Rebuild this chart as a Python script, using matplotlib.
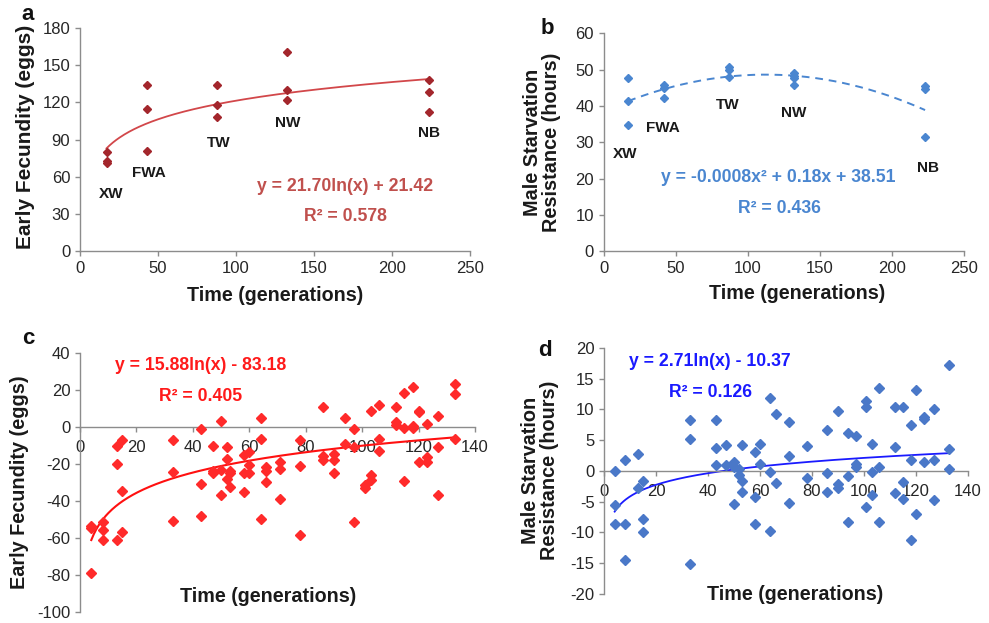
import numpy as np
import matplotlib
matplotlib.use('Agg')
import matplotlib.pyplot as plt

plt.rcParams['font.family'] = ['Liberation Sans', 'DejaVu Sans']
plt.rcParams['axes.unicode_minus'] = False

# ---- panel a / b : population means over generations
pop_names = ['XW', 'FWA', 'TW', 'NW', 'NB']

a_gen = [17, 17, 17, 43, 43, 43, 88, 88, 88, 133, 133, 133, 224, 224, 224]
a_fec = [80, 73, 71, 134, 115, 81, 134, 118, 108, 161, 130, 122, 138, 128, 112]
a_coef = (21.70, 21.42)  # y = a*ln(x) + b

b_gen = [17, 17, 17, 42, 42, 42, 87, 87, 87, 132, 132, 132, 132, 223, 223, 223]
b_res = [47.6, 41.4, 34.8, 45.8, 44.9, 42.1, 50.6, 49.9, 48.1, 49.0, 48.3, 47.8, 45.8, 45.6, 44.6, 31.5]
b_coef = (-0.0008, 0.18, 38.51)  # quadratic

# ---- panel c : early fecundity differences
c_gen = [4, 4, 4, 8, 8, 8, 13, 13, 13, 15, 15, 15, 33, 33, 33, 43, 43, 43,
         47, 47, 47, 50, 50, 50, 52, 52, 52, 53, 53, 53, 58, 58, 58, 60, 60, 60,
         64, 64, 64, 66, 66, 66, 71, 71, 71, 78, 78, 78, 86, 86, 86, 90, 90, 90,
         94, 94, 97, 97, 97, 101, 101, 103, 103, 103, 106, 106, 106,
         112, 112, 112, 115, 115, 115, 118, 118, 118, 120, 120, 120,
         123, 123, 123, 127, 127, 127, 133, 133, 133]
c_fec = [-53.7, -54.8, -78.9, -51.4, -55.5, -61.3, -10, -20, -61, -6.8, -34.8, -56.8,
         -7.2, -24.5, -50.8, -1, -31, -48, -10, -24, -25, 3.4, -23, -36.6,
         -10.8, -17.3, -28, -24, -25, -32.6, -15.3, -25, -35.3, -13.5, -20.4, -25,
         4.9, -6.5, -50, -21.8, -23.6, -29.7, -19, -22.7, -38.9, -6.8, -20.9, -58.2,
         10.8, -15.9, -18, -14.4, -17.7, -24.9, 5.2, -9.2, -0.9, -10.5, -51.5,
         -31.2, -33, 8.5, -26, -28.5, 12, -6.5, -13,
         11, 3, 1.3, 18.4, -0.2, -29.4, 22, 0.4, -0.5, 9, 8, -19,
         1.8, -16.4, -19, 6.1, -11, -37, 23.2, 18, -6.5]
c_coef = (15.88, -83.18)

# ---- panel d : male starvation resistance differences
d_gen = [4, 4, 4, 8, 8, 8, 13, 13, 15, 15, 15, 33, 33, 33, 43, 43, 43, 47, 47,
         50, 50, 50, 52, 52, 53, 53, 53, 58, 58, 58, 60, 60, 64, 64, 64, 66, 66,
         71, 71, 71, 78, 78, 86, 86, 86, 90, 90, 90, 94, 94, 94, 97, 97, 97,
         101, 101, 101, 103, 103, 103, 106, 106, 106, 112, 112, 112, 115, 115, 115,
         118, 118, 118, 120, 120, 123, 123, 123, 127, 127, 127, 133, 133, 133]
d_res = [0, -5.6, -8.6, 1.7, -8.6, -14.4, 2.8, -2.8, -1.6, -7.8, -10, 8.2, 5.2, -15.1,
         8.2, 3.7, 0.9, 4.2, 0.9, 1.4, 0.6, -5.4, 0.3, -0.6, 4.2, -1.7, -3.4,
         3.1, -4.3, -8.6, 4.3, 1.2, 11.9, -0.1, -9.8, 9.3, -1.9,
         7.9, 2.4, -5.2, 4.1, -1.1, 6.6, -0.3, -3.4, 9.8, -2.2, -2.7,
         6.1, -0.9, -8.3, 5.6, 1.1, 0.6, 11.4, 10.3, -5.8, 4.4, -0.2, -3.9,
         13.4, 0.7, -8.3, 10.3, 3.9, -3.6, 10.3, -1.8, -4.5, 7.4, 1.7, -11.2,
         13.2, -7, 8.7, 8.4, 1.5, 10.1, 1.8, -4.7, 17.2, 3.5, 0.3]
d_coef = (2.71, -10.37)

fig = plt.figure(figsize=(9.89, 6.23), dpi=100)

ax_a = fig.add_axes([0.0809, 0.597, 0.394, 0.358])
ax_b = fig.add_axes([0.6104, 0.597, 0.3643, 0.3494])
ax_c = fig.add_axes([0.0809, 0.0181, 0.3994, 0.4148])
ax_d = fig.add_axes([0.611, 0.0465, 0.3674, 0.3953])

spine_col = '#8c8c8c'
tick_col = '#262626'


def style(ax):
    for s in ['top', 'right']:
        ax.spines[s].set_visible(False)
    for s in ['left', 'bottom']:
        ax.spines[s].set_color(spine_col)
        ax.spines[s].set_linewidth(1.0)
    ax.tick_params(axis='both', colors=spine_col, labelcolor=tick_col, labelsize=12,
                   length=3.5, width=1.0, direction='out')
    ax.tick_params(axis='y', pad=3.5)
    ax.tick_params(axis='x', pad=4)


xlab_font = dict(fontsize=14.2, fontweight='bold', color='#1a1a1a')
ylab2_font = dict(fontsize=14.3, fontweight='bold', color='#1a1a1a')
pop_font = dict(fontsize=11, fontweight='bold', color='#1a1a1a', ha='center', va='center')
eq_size = 12.7

# ---- a
style(ax_a)
ax_a.plot(a_gen, a_fec, 'D', color='#a3262c', markersize=4.4, zorder=3)
xa = np.linspace(min(a_gen), max(a_gen), 200)
ax_a.plot(xa, a_coef[0] * np.log(xa) + a_coef[1], color='#d2474a', lw=1.3, zorder=2)
ax_a.set_xlim(0, 250)
ax_a.set_ylim(0, 180)
ax_a.set_xticks(np.arange(0, 251, 50))
ax_a.set_yticks(np.arange(0, 181, 30))
ax_a.set_xlabel('Time (generations)', va='center', **xlab_font)
ax_a.xaxis.set_label_coords(0.5, -0.2)
ax_a.set_ylabel('Early Fecundity (eggs)', va='center', fontsize=15, fontweight='bold',
                color='#1a1a1a')
ax_a.yaxis.set_label_coords(-0.141, 0.51)
for name, (px, py) in zip(pop_names, [(20, 46), (44, 63), (89, 87), (133, 103), (224, 95)]):
    ax_a.text(px, py, name, **pop_font)
ax_a.text(170, 52.5, 'y = 21.70ln(x) + 21.42', color='#c0504d', fontsize=eq_size,
          fontweight='bold', ha='center', va='center')
ax_a.text(170, 27.5, 'R² = 0.578', color='#c0504d', fontsize=eq_size,
          fontweight='bold', ha='center', va='center')

# ---- b
style(ax_b)
ax_b.plot(b_gen, b_res, 'D', color='#4a86d0', markersize=4.2, zorder=3)
xb = np.linspace(min(b_gen), max(b_gen), 200)
ax_b.plot(xb, b_coef[0] * xb ** 2 + b_coef[1] * xb + b_coef[2], color='#4a86d0',
          lw=1.4, ls=(0, (4, 3)), zorder=2)
ax_b.set_xlim(0, 250)
ax_b.set_ylim(0, 60)
ax_b.set_xticks(np.arange(0, 251, 50))
ax_b.set_yticks(np.arange(0, 61, 10))
ax_b.set_xlabel('Time (generations)', va='center', **xlab_font)
ax_b.xaxis.set_label_coords(0.538, -0.197)
ax_b.set_ylabel('Male Starvation\nResistance (hours)', va='center', linespacing=1.0, **ylab2_font)
ax_b.yaxis.set_label_coords(-0.172, 0.5)
for name, (px, py) in zip(pop_names, [(15, 26.7), (41, 34), (86, 40.4), (132, 38), (225, 22.8)]):
    ax_b.text(px, py, name, **pop_font)
ax_b.text(121, 20.2, 'y = -0.0008x² + 0.18x + 38.51', color='#4a86d0', fontsize=eq_size,
          fontweight='bold', ha='center', va='center')
ax_b.text(122, 11.7, 'R² = 0.436', color='#4a86d0', fontsize=eq_size,
          fontweight='bold', ha='center', va='center')

# ---- c
style(ax_c)
ax_c.spines['bottom'].set_position(('data', 0))
ax_c.plot(c_gen, c_fec, 'D', color='#ff2a2a', markersize=4.9, zorder=3)
xc = np.linspace(min(c_gen), max(c_gen), 300)
ax_c.plot(xc, c_coef[0] * np.log(xc) + c_coef[1], color='#ff1010', lw=1.5, zorder=2)
ax_c.set_xlim(0, 140)
ax_c.set_ylim(-100, 40)
ax_c.set_xticks(np.arange(0, 141, 20))
ax_c.set_yticks(np.arange(-100, 41, 20))
ax_c.tick_params(axis='x', pad=6)
ax_c.text(66.5, -91.5, 'Time (generations)', ha='center', va='center', **xlab_font)
ax_c.set_ylabel('Early Fecundity (eggs)', va='center', fontsize=14.3, fontweight='bold',
                color='#1a1a1a')
ax_c.yaxis.set_label_coords(-0.152, 0.503)
ax_c.text(42.6, 33.3, 'y = 15.88ln(x) - 83.18', color='#ff1a1a', fontsize=eq_size,
          fontweight='bold', ha='center', va='center')
ax_c.text(42.9, 16.6, 'R² = 0.405', color='#ff1a1a', fontsize=eq_size,
          fontweight='bold', ha='center', va='center')

# ---- d
style(ax_d)
ax_d.spines['bottom'].set_position(('data', 0))
ax_d.plot(d_gen, d_res, 'D', color='#4a78c8', markersize=4.8, zorder=3)
xd = np.linspace(min(d_gen), max(d_gen), 300)
ax_d.plot(xd, d_coef[0] * np.log(xd) + d_coef[1], color='#1a1aff', lw=1.3, zorder=2)
ax_d.set_xlim(0, 140)
ax_d.set_ylim(-20, 20)
ax_d.set_xticks(np.arange(0, 141, 20))
ax_d.set_yticks(np.arange(-20, 21, 5))
ax_d.tick_params(axis='x', pad=6)
ax_d.text(73.5, -20.1, 'Time (generations)', ha='center', va='center', **xlab_font)
ax_d.set_ylabel('Male Starvation\nResistance (hours)', va='center', linespacing=1.0, **ylab2_font)
ax_d.yaxis.set_label_coords(-0.177, 0.503)
ax_d.text(40.7, 17.7, 'y = 2.71ln(x) - 10.37', color='#1a1aff', fontsize=eq_size,
          fontweight='bold', ha='center', va='center')
ax_d.text(41, 12.7, 'R² = 0.126', color='#1a1aff', fontsize=eq_size,
          fontweight='bold', ha='center', va='center')

# panel letters
for letter, (px, py) in zip('abcd', [(28, 14), (547, 28), (28, 339), (545, 350)]):
    fig.text(px / 989, 1 - py / 623, letter, fontsize=16, fontweight='bold',
             ha='center', va='center', color='#111111')

fig.savefig('out.png', dpi=100)
